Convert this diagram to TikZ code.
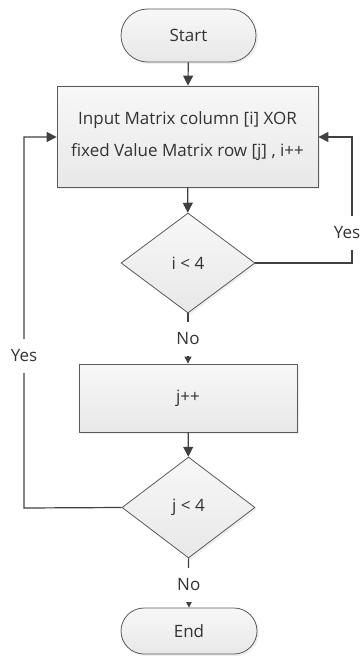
\documentclass[tikz,border=0pt]{standalone}
\usepackage{fontspec}
\setmainfont{Open Sans}
\usetikzlibrary{shapes.geometric,shapes.misc,arrows.meta,shadows}
\definecolor{linecol}{HTML}{404040}
\definecolor{edgecol}{HTML}{5A5A5A}
\definecolor{txtcol}{HTML}{333333}
\tikzset{
  base/.style={draw=edgecol, line width=0.8bp, inner sep=0pt, text=txtcol,
    top color=white!97!black, bottom color=white!91!black,
    drop shadow={shadow xshift=2bp, shadow yshift=-2bp, fill=black!12}},
  terminal/.style={base, rounded rectangle},
  process/.style={base, rectangle, align=center},
  decision/.style={base, diamond},
  flow/.style={draw=linecol, line width=1.2bp, -{Triangle[length=10bp,width=10bp]}},
  flowsmall/.style={draw=linecol, line width=1.2bp, -{Triangle[length=7bp,width=7bp]}},
  lbl/.style={fill=white, text=txtcol, inner sep=1bp, minimum height=34bp}
}
\begin{document}
\begin{tikzpicture}[x=1bp, y=-1bp, font=\fontsize{17bp}{22bp}\selectfont]
\useasboundingbox (0,0) rectangle (363,659);

% shapes of the flow
\node[terminal, minimum width=135bp, minimum height=53bp] (start) at (188.5,35.5) {Start};
\node[process, minimum width=261bp, minimum height=101bp] (xor) at (187.5,136.5)
  {Input Matrix column [i] XOR\\[10bp]fixed Value Matrix row [j] , i++};
\node[decision, minimum width=134bp, minimum height=100bp] (ci) at (188,263) {i < 4};
\node[process, minimum width=218bp, minimum height=68bp] (inc) at (188,398) {j++};
\node[decision, minimum width=133bp, minimum height=101bp] (cj) at (188.5,507.5) {j < 4};
\node[terminal, minimum width=136bp, minimum height=46bp] (end) at (189,631) {End};

% loop corners
\coordinate (ri) at (352,263);
\coordinate (rt) at (352,137);
\coordinate (lj) at (24,508);
\coordinate (lt) at (24,137);

% straight connectors
\draw[flow] (start) -- (xor);
\draw[flow] (xor) -- (ci);
\draw[flow] (inc) -- (cj);
\draw[flowsmall] (ci.south) -- node[lbl] (noi) {No} (inc.north);
\draw[flowsmall] (cj.south) -- node[lbl, pos=0.54] (noj) {No} (end.north);

% loop-back connectors
\draw[flow] (ci.east) -- (ri) -- node[lbl, pos=0.24, xshift=-5bp] (yesi) {Yes} (rt) -- (xor.east |- rt);
\draw[flow] (cj.west) -- (lj) -- node[lbl, pos=0.41] (yesj) {Yes} (lt) -- (xor.west |- lt);
\end{tikzpicture}
\end{document}
